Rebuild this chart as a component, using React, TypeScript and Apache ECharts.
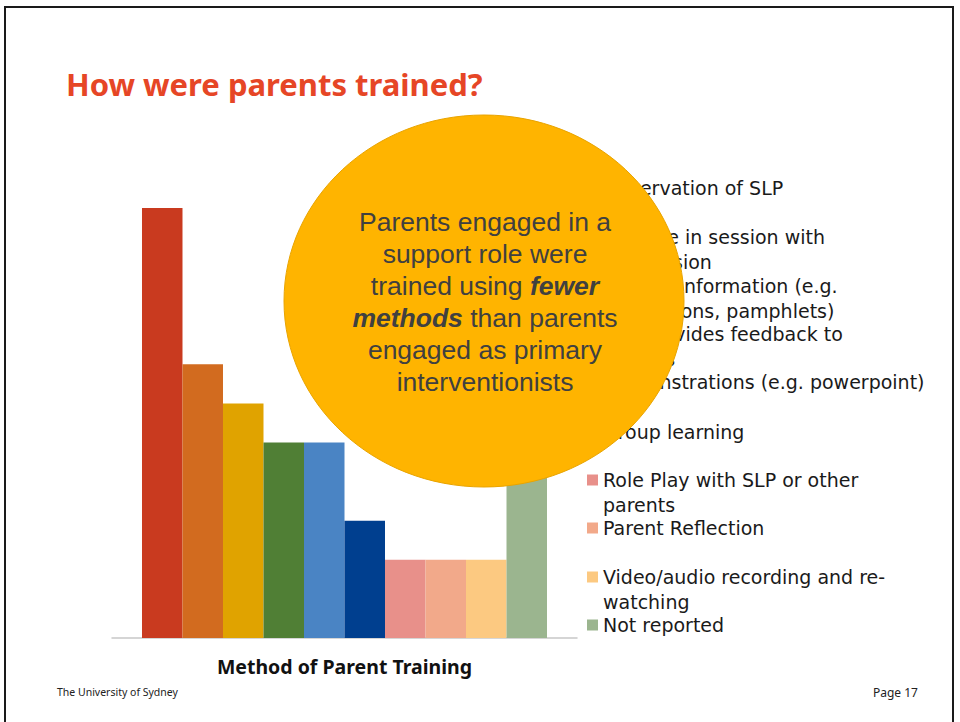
import React, { useEffect, useRef } from "react";
import * as echarts from "echarts";

const categories = ["Method of Parent Training"];
const methods = [
  "Observation of SLP",
  "Practice in session with supervision",
  "Written information (e.g. instructions, pamphlets)",
  "SLP provides feedback to parents",
  "Demonstrations (e.g. powerpoint)",
  "Group learning",
  "Role Play with SLP or other parents",
  "Parent Reflection",
  "Video/audio recording and re-watching",
  "Not reported",
];
const wrappedLabels = [
  "Observation of SLP",
  "Practice in session with\nsupervision",
  "Written information (e.g.\ninstructions, pamphlets)",
  "SLP provides feedback to\nparents",
  "Demonstrations (e.g. powerpoint)",
  "Group learning",
  "Role Play with SLP or other\nparents",
  "Parent Reflection",
  "Video/audio recording and re-\nwatching",
  "Not reported",
];
const counts = [11, 7, 6, 5, 5, 3, 2, 2, 2, 5];
const colors = [
  "#C93A1F",
  "#D26B1F",
  "#E0A300",
  "#507F35",
  "#4A84C4",
  "#003F8F",
  "#E8908A",
  "#F2A98A",
  "#FCC981",
  "#9BB58F",
];
const calloutLines = [
  "Parents engaged in a",
  "support role were",
  "trained using {b|fewer}",
  "{b|methods} than parents",
  "engaged as primary",
  "interventionists",
];

// layout
const legendCenters = [188, 237, 286, 334, 382, 432, 480, 528, 577, 625];
const LEGEND_FONT = "DejaVu Sans";
const LINE_H = 25;

export default function App() {
  const ref = useRef<HTMLDivElement>(null);
  useEffect(() => {
    if (!ref.current) return;
    const chart = echarts.init(ref.current, undefined, { renderer: "svg" });

    const legends = methods.map((name, i) => {
      const label = wrappedLabels[i];
      const multi = label.indexOf("\n") >= 0;
      const text = multi ? " \n" + label : label;
      const boxH = multi ? LINE_H * 3 : LINE_H;
      return {
        data: [name],
        orient: "vertical",
        left: 587,
        top: legendCenters[i] - boxH / 2,
        padding: 0,
        itemWidth: 11,
        itemHeight: 11,
        icon: "rect",
        selectedMode: false,
        formatter: () => text,
        textStyle: {
          fontFamily: LEGEND_FONT,
          fontSize: 19,
          color: "#1a1a1a",
          lineHeight: LINE_H,
        },
      };
    });

    const series = methods.map((name, i) => ({
      type: "bar",
      name,
      data: [counts[i]],
      barGap: "0%",
      barCategoryGap: "12.9%",
      itemStyle: { color: colors[i] },
    }));

    chart.setOption({
      animation: false,
      backgroundColor: "#ffffff",
      grid: { left: 112, right: 383, top: 208, bottom: 84 },
      xAxis: {
        type: "category",
        data: categories,
        axisTick: { show: false },
        axisLine: { lineStyle: { color: "#C8C8C8", width: 1.5 } },
        axisLabel: {
          margin: 18,
          fontFamily: "Noto Sans",
          fontWeight: "bold",
          fontSize: 19.5,
          color: "#111111",
        },
      },
      yAxis: {
        type: "value",
        min: 0,
        max: 11,
        show: false,
        splitLine: { show: false },
      },
      legend: legends,
      series,
      graphic: [
        {
          type: "rect",
          shape: { x: 5, y: 7, width: 948, height: 800 },
          style: { fill: "none", stroke: "#1a1a1a", lineWidth: 2 },
          z: 1,
        },
        {
          type: "text",
          x: 66,
          y: 84,
          style: {
            text: "How were parents trained?",
            fill: "#E64626",
            fontFamily: "Noto Sans",
            fontWeight: "bold",
            fontSize: 31,
            verticalAlign: "middle",
          },
        },
        {
          type: "ellipse",
          shape: { cx: 484, cy: 301, rx: 200, ry: 186 },
          style: { fill: "#FFB400", stroke: "#E9A400", lineWidth: 1 },
          z: 100,
        },
        {
          type: "text",
          x: 485,
          y: 302,
          z: 101,
          style: {
            text: calloutLines.join("\n"),
            fill: "#404040",
            fontFamily: "Liberation Sans",
            fontSize: 26.5,
            lineHeight: 32,
            align: "center",
            verticalAlign: "middle",
            rich: {
              b: {
                fontFamily: "Liberation Sans",
                fontSize: 26.5,
                fontWeight: "bold",
                fontStyle: "italic",
                fill: "#404040",
                lineHeight: 32,
              },
            },
          },
        },
        {
          type: "text",
          x: 57,
          y: 692,
          style: {
            text: "The University of Sydney",
            fill: "#222222",
            fontFamily: "Noto Sans",
            fontSize: 10.5,
            verticalAlign: "middle",
          },
        },
        {
          type: "text",
          x: 918,
          y: 692,
          style: {
            text: "Page 17",
            fill: "#222222",
            fontFamily: "Noto Sans",
            fontSize: 12,
            align: "right",
            verticalAlign: "middle",
          },
        },
      ],
    });
    return () => chart.dispose();
  }, []);
  return (
    <div
      ref={ref}
      style={{ position: "fixed", left: 0, top: 0, width: 960, height: 722 }}
    />
  );
}
